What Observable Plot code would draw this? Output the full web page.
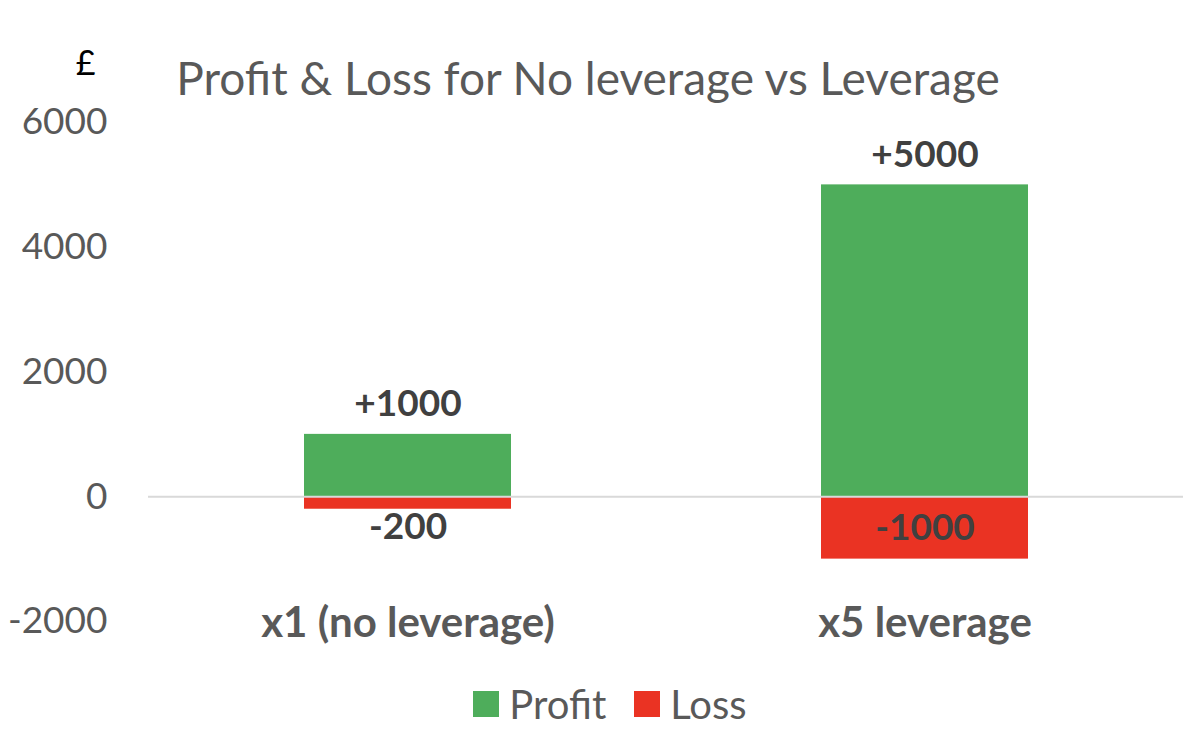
<!DOCTYPE html>
<html>
<head>
<meta charset="utf-8">
<script src="https://cdn.jsdelivr.net/npm/d3@7"></script>
<script src="https://cdn.jsdelivr.net/npm/@observablehq/plot@0.6"></script>
<style>
  html, body { margin: 0; padding: 0; background: #fff; }
  #chart { width: 1204px; height: 746px; overflow: hidden; }
  .lg-swatches { justify-content: center !important; font-family: Lato, sans-serif !important; font-size: 40px !important; color: #595959 !important; margin: 0 !important; padding-left: 16px; height: 46px; align-items: center !important; }
  .lg-swatch { margin: 0 14px !important; }
  .lg-swatch > svg { margin-right: 10px !important; }
</style>
</head>
<body>
<div id="chart"></div>
<script>
const categories = ["x1 (no leverage)", "x5 leverage"];
const profit = [1000, 5000];
const loss = [-200, -1000];
const yTicks = [-2000, 0, 2000, 4000, 6000];
const seriesNames = ["Profit", "Loss"];
const seriesColors = ["#4EAD5B", "#EA3323"];
const title = "Profit & Loss for No leverage vs Leverage";
const unitLabel = "£";

const profitData = categories.map((c, i) => ({cat: c, value: profit[i], series: "Profit"}));
const lossData = categories.map((c, i) => ({cat: c, value: loss[i], series: "Loss"}));
const fmt = v => (v > 0 ? "+" : "") + v;

const chart = Plot.plot({
  width: 1204,
  height: 680,
  marginTop: 122,
  marginBottom: 59,
  marginLeft: 148,
  marginRight: 21,
  style: {fontFamily: "Lato, sans-serif", background: "#fff"},
  x: {domain: categories, paddingInner: 0.6, paddingOuter: 0.3, label: null},
  y: {domain: [-2000, 6000], label: null},
  color: {domain: seriesNames, range: seriesColors},
  marks: [
    Plot.barY(profitData, {x: "cat", y: "value", fill: "series"}),
    Plot.barY(lossData, {x: "cat", y: "value", fill: "series"}),
    Plot.ruleY([0], {stroke: "#d9d9d9", strokeWidth: 2}),
    Plot.axisY({ticks: yTicks, tickSize: 0, tickPadding: 41, fontSize: 37, color: "#595959", tickFormat: d => String(d), label: null}),
    Plot.axisX({tickSize: 0, tickPadding: 0, lineAnchor: "middle", dy: 2, fontSize: 42, fontWeight: "bold", color: "#595959", label: null}),
    Plot.text(profitData, {x: "cat", y: "value", text: d => fmt(d.value), dy: -30, fontSize: 37, fontWeight: "bold", fill: "#404040", lineAnchor: "middle"}),
    // loss labels: centred inside when the bar is tall enough, else just below the bar
    Plot.text(lossData.filter(d => d.value <= -1000), {x: "cat", y: d => d.value / 2, text: d => fmt(d.value), fontSize: 37, fontWeight: "bold", fill: "#404040", lineAnchor: "middle"}),
    Plot.text(lossData.filter(d => d.value > -1000), {x: "cat", y: "value", text: d => fmt(d.value), dy: 18, fontSize: 37, fontWeight: "bold", fill: "#404040", lineAnchor: "middle"}),
    Plot.text([title], {frameAnchor: "top", dx: -78, dy: -42, fontSize: 46, fill: "#595959", lineAnchor: "middle"}),
    Plot.text([unitLabel], {frameAnchor: "top-left", dx: -63, dy: -58, fontSize: 34, fill: "#000", textAnchor: "middle", lineAnchor: "middle"})
  ]
});

const legend = Plot.legend({
  color: {domain: seriesNames, range: seriesColors},
  legend: "swatches",
  swatchSize: 26,
  className: "lg"
});

const root = document.getElementById("chart");
root.appendChild(chart);
root.appendChild(legend);
</script>
</body>
</html>
